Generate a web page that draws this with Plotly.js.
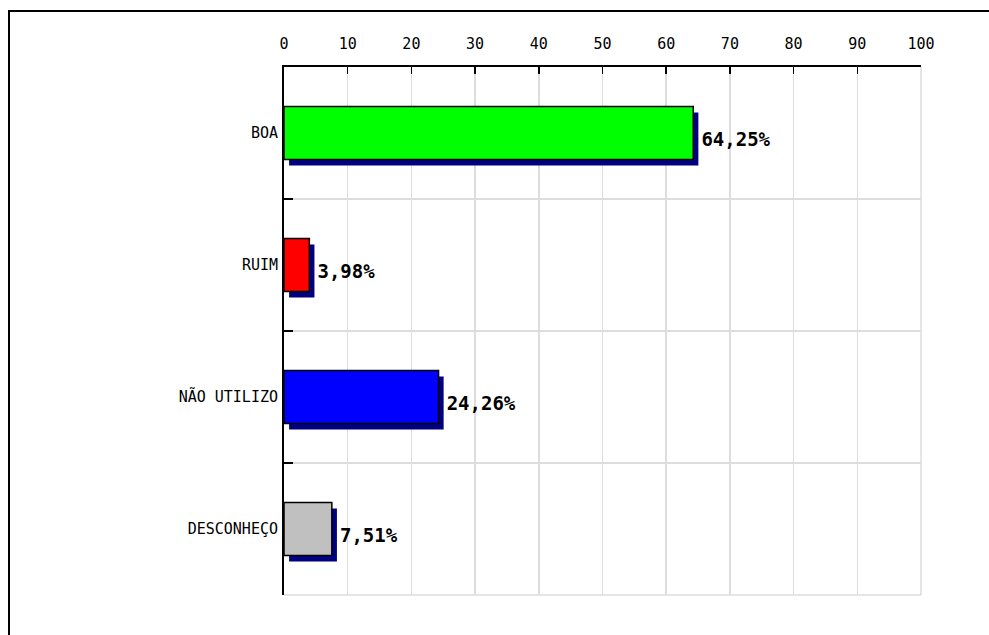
<!DOCTYPE html>
<html>
<head>
<meta charset="utf-8">
<script src="https://cdn.plot.ly/plotly-3.0.1.min.js"></script>
<style>
html,body{margin:0;padding:0;background:#fff;}
#wrap{position:relative;width:989px;height:635px;overflow:hidden;}
#frame{position:absolute;left:8px;top:10px;width:1000px;height:700px;border-left:2px solid #000;border-top:2px solid #000;box-sizing:border-box;pointer-events:none;z-index:5;}
#chart{position:absolute;left:0;top:0;width:989px;height:635px;}
</style>
</head>
<body>
<div id="wrap">
<div id="chart"></div>
<div id="frame"></div>
</div>
<script>
const categories = ["BOA", "RUIM", "NÃO UTILIZO", "DESCONHEÇO"];
const values = [64.25, 3.98, 24.26, 7.51];
const barColors = ["#00ff00", "#ff0000", "#0000ff", "#c0c0c0"];
const tickVals = [0, 10, 20, 30, 40, 50, 60, 70, 80, 90, 100];

const labels = values.map(v => v.toFixed(2).replace('.', ',') + '%');

const shadow = {
  type: 'bar', orientation: 'h',
  y: categories, x: values, base: 0.8,
  width: 0.4, offset: -0.2 + 6/132,
  marker: {color: '#000080', line: {width: 0}},
  text: labels, textposition: 'outside',
  textfont: {family: 'DejaVu Sans Mono', size: 19, color: '#000', weight: 'bold'},
  cliponaxis: false, hoverinfo: 'skip', showlegend: false
};
const main = {
  type: 'bar', orientation: 'h',
  y: categories, x: values,
  width: 0.4, offset: -0.2,
  marker: {color: barColors, line: {color: '#000', width: 1.5}},
  hoverinfo: 'skip', showlegend: false
};

const layout = {
  width: 989, height: 635,
  margin: {l: 284, r: 68, t: 67, b: 40},
  paper_bgcolor: '#fff', plot_bgcolor: '#fff',
  barmode: 'overlay',
  showlegend: false,
  xaxis: {
    side: 'top', range: [0, 100], tickvals: tickVals,
    ticks: 'inside', ticklen: 7, tickcolor: '#000', tickwidth: 1.5,
    showline: true, linecolor: '#000', linewidth: 2,
    showgrid: true, gridcolor: '#dddddd', gridwidth: 1.5,
    zeroline: false, mirror: false,
    ticklabelstandoff: 10,
    tickfont: {family: 'DejaVu Sans Mono', size: 15, color: '#000'}
  },
  yaxis: {
    type: 'category', autorange: 'reversed',
    tickson: 'boundaries', ticks: 'inside', ticklen: 9, tickcolor: '#000', tickwidth: 1.5,
    showline: true, linecolor: '#000', linewidth: 2,
    showgrid: true, gridcolor: '#dddddd', gridwidth: 1.5,
    zeroline: false,
    ticklabelstandoff: 1,
    tickfont: {family: 'DejaVu Sans Mono', size: 15, color: '#000'}
  },
  shapes: [
    {type: 'line', xref: 'paper', yref: 'paper', x0: 1, x1: 1, y0: 0, y1: 1, line: {color: '#dddddd', width: 1.5}, layer: 'below'},
    {type: 'line', xref: 'paper', yref: 'paper', x0: 0, x1: 1, y0: 0, y1: 0, line: {color: '#dddddd', width: 1.5}, layer: 'below'}
  ]
};

Plotly.newPlot('chart', [shadow, main], layout, {displayModeBar: false, staticPlot: true});
</script>
</body>
</html>
